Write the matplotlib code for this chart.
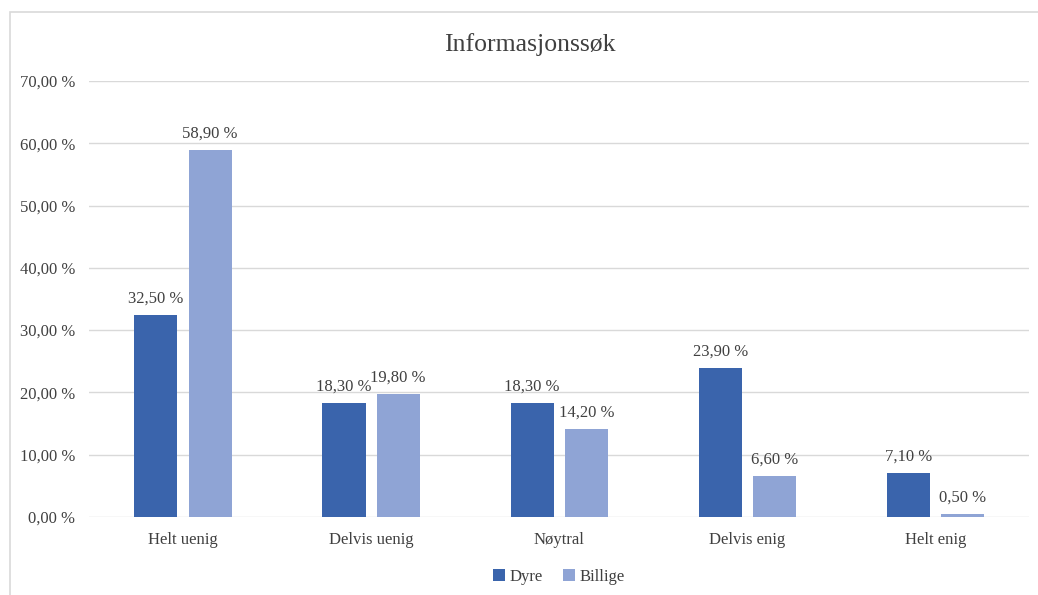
import numpy as np
import matplotlib.pyplot as plt
from matplotlib.patches import Rectangle

plt.rcParams['font.family'] = ['Liberation Serif', 'DejaVu Serif']

categories = ["Helt uenig", "Delvis uenig", "Nøytral", "Delvis enig", "Helt enig"]
dyre = [32.5, 18.3, 18.3, 23.9, 7.1]
billige = [58.9, 19.8, 14.2, 6.6, 0.5]
yticks = [0, 10, 20, 30, 40, 50, 60, 70]

dark = '#3A64AC'
light = '#8FA4D5'
txt = '#404040'


def pct(v):
    return f"{v:.2f}".replace('.', ',') + " %"


fig = plt.figure(figsize=(10.38, 5.95), dpi=100)
ax = fig.add_axes([0.0857, 0.131, 0.906, 0.733])

x = np.arange(len(categories))
w = 0.229
off = 0.144
b1 = ax.bar(x - off, dyre, w, color=dark, label='Dyre', zorder=3)
b2 = ax.bar(x + off, billige, w, color=light, label='Billige', zorder=3)

for bars, vals in [(b1, dyre), (b2, billige)]:
    for bar, v in zip(bars, vals):
        ax.text(bar.get_x() + bar.get_width() / 2, v + 1.3, pct(v),
                ha='center', va='bottom', fontsize=12, color=txt, zorder=4)

ax.set_xlim(-0.5, len(categories) - 0.5)
ax.set_ylim(0, 70)
ax.set_yticks(yticks)
ax.set_yticklabels([pct(t) for t in yticks], fontsize=12, color=txt)
ax.set_xticks(x)
ax.set_xticklabels(categories, fontsize=12, color=txt)
ax.tick_params(length=0, pad=11)
ax.tick_params(axis='y', pad=10)
ax.grid(axis='y', color='#D9D9D9', linewidth=1, zorder=0)
for s in ax.spines.values():
    s.set_visible(False)

fig.text(0.51, 0.925, "Informasjonssøk", ha='center', va='center', fontsize=18.5, color=txt)

ax.legend(loc='upper center', bbox_to_anchor=(0.5, -0.085), ncol=2, frameon=False,
          fontsize=12, labelcolor=txt, handlelength=0.7, handleheight=0.7,
          handletextpad=0.3, columnspacing=1.2)

fig.patches.append(Rectangle((10 / 1038, -0.05), 1.1, 1 - 12 / 595 + 0.05,
                             transform=fig.transFigure, fill=False,
                             edgecolor='#D9D9D9', linewidth=1.2))

fig.savefig('out.png', dpi=100)
